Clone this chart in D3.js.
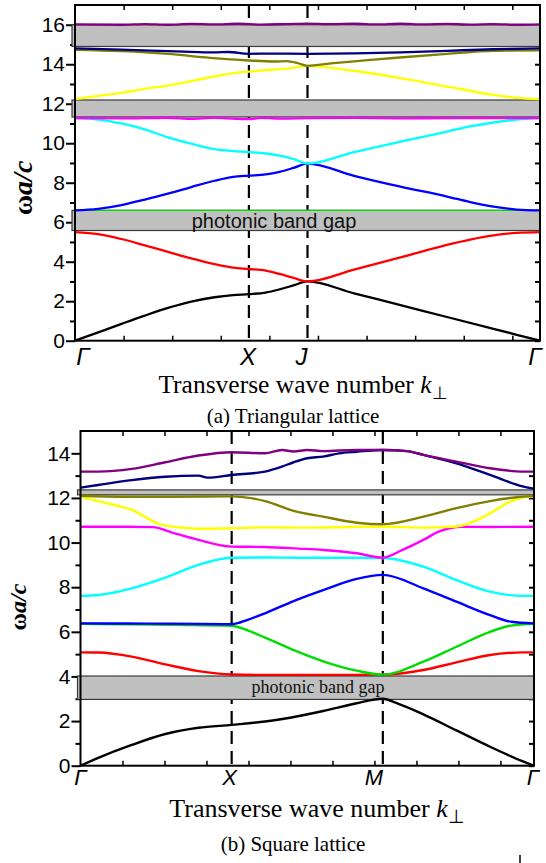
<!DOCTYPE html>
<html>
<head>
<meta charset="utf-8">
<script src="https://cdn.jsdelivr.net/npm/d3@7"></script>
<style>
  html, body { margin: 0; padding: 0; background: #fff; }
  svg { display: block; }
</style>
</head>
<body>
<svg id="fig" width="546" height="863"></svg>
<script>
// ---------- (a) triangular lattice ----------
const triKnotLabels = ["Γ", "X", "J", "Γ"];
const triKnotPos = [0, 0.374, 0.5, 1];
const triYTicks = [0, 2, 4, 6, 8, 10, 12, 14, 16];
const triGaps = [[5.58, 6.6], [11.33, 12.19], [14.9, 16.0]];
const triGapLabel = "photonic band gap";

const triBand1 = [[0,0],[0.05,0.42],[0.1,0.85],[0.15,1.27],[0.2,1.66],[0.25,1.98],[0.3,2.2],[0.34,2.31],[0.374,2.36],[0.41,2.44],[0.44,2.6],[0.47,2.8],[0.5,3.0],[0.6,2.4],[0.7,1.8],[0.8,1.2],[0.9,0.6],[1,0]];
const triBand2 = [[0,5.5],[0.05,5.4],[0.1,5.15],[0.15,4.83],[0.2,4.5],[0.25,4.17],[0.3,3.88],[0.34,3.7],[0.374,3.63],[0.41,3.55],[0.44,3.38],[0.47,3.18],[0.5,3.0],[0.6,3.6],[0.7,4.22],[0.8,4.85],[0.85,5.12],[0.9,5.33],[0.95,5.46],[1,5.5]];
const triBand3 = [[0,6.6],[0.5,6.6],[1,6.6]];
const triBand4 = [[0,6.6],[0.05,6.68],[0.1,6.87],[0.15,7.15],[0.2,7.45],[0.25,7.78],[0.3,8.1],[0.34,8.3],[0.374,8.36],[0.41,8.42],[0.44,8.55],[0.47,8.75],[0.5,8.97],[0.6,8.35],[0.7,7.8],[0.8,7.3],[0.85,7.02],[0.9,6.79],[0.95,6.64],[1,6.6]];
const triBand5 = [[0,11.27],[0.05,11.2],[0.1,11.0],[0.15,10.7],[0.2,10.3],[0.25,9.98],[0.3,9.7],[0.34,9.6],[0.374,9.55],[0.41,9.48],[0.44,9.37],[0.47,9.2],[0.5,8.97],[0.6,9.55],[0.7,10.08],[0.8,10.59],[0.85,10.85],[0.9,11.05],[0.95,11.2],[1,11.27]];
const triBand6 = [[0,11.27],[0.1,11.26],[0.2,11.29],[0.25,11.23],[0.3,11.28],[0.374,11.22],[0.4,11.28],[0.45,11.25],[0.5,11.27],[0.6,11.28],[0.7,11.26],[0.8,11.27],[0.9,11.27],[1,11.27]];
const triBand7 = [[0,12.23],[0.05,12.4],[0.1,12.55],[0.15,12.75],[0.2,12.92],[0.25,13.15],[0.3,13.38],[0.34,13.55],[0.374,13.63],[0.41,13.7],[0.44,13.75],[0.47,13.82],[0.5,13.92],[0.55,13.82],[0.6,13.67],[0.7,13.3],[0.8,12.87],[0.9,12.45],[0.95,12.3],[1,12.23]];
const triBand8 = [[0,14.73],[0.1,14.66],[0.2,14.52],[0.29,14.32],[0.374,14.19],[0.43,14.14],[0.455,14.16],[0.48,14.05],[0.5,13.92],[0.55,14.04],[0.6,14.15],[0.656,14.26],[0.8,14.53],[0.9,14.68],[1,14.7]];
const triBand9 = [[0,14.8],[0.1,14.74],[0.2,14.66],[0.25,14.63],[0.3,14.6],[0.33,14.62],[0.374,14.53],[0.42,14.54],[0.5,14.53],[0.6,14.55],[0.7,14.6],[0.8,14.68],[0.9,14.76],[1,14.8]];
const triBand10 = [[0,16.02],[0.1,16.0],[0.15,16.03],[0.2,16.0],[0.25,16.04],[0.3,16.02],[0.35,16.05],[0.4,16.01],[0.45,16.03],[0.5,16.06],[0.55,16.03],[0.6,16.05],[0.65,16.02],[0.7,16.05],[0.75,16.02],[0.8,16.04],[0.85,16.01],[0.9,16.03],[0.95,16.0],[1,16.02]];

// ---------- (b) square lattice ----------
const sqKnotLabels = ["Γ", "X", "M", "Γ"];
const sqKnotPos = [0, 1/3, 2/3, 1];
const sqYTicks = [0, 2, 4, 6, 8, 10, 12, 14];
const sqGaps = [[2.97, 4.02], [12.14, 12.36]];
const sqGapLabel = "photonic band gap";

const sqBand1 = [[0,0],[0.039,0.35],[0.113,0.93],[0.187,1.42],[0.26,1.7],[0.333,1.83],[0.407,1.98],[0.462,2.15],[0.535,2.45],[0.609,2.8],[0.666,3.0],[0.7,2.78],[0.756,2.3],[0.829,1.58],[0.903,0.85],[0.977,0.18],[1,0]];
const sqBand2 = [[0,5.08],[0.039,5.07],[0.113,4.89],[0.187,4.54],[0.26,4.24],[0.333,4.09],[0.4,4.07],[0.5,4.07],[0.6,4.07],[0.666,4.08],[0.756,4.29],[0.829,4.63],[0.903,4.96],[0.977,5.08],[1,5.08]];
const sqBand3 = [[0,6.36],[0.1,6.34],[0.2,6.31],[0.333,6.27],[0.37,6.05],[0.407,5.74],[0.44,5.45],[0.48,5.1],[0.535,4.68],[0.609,4.26],[0.666,4.08],[0.756,4.66],[0.829,5.33],[0.903,6.0],[0.95,6.28],[1,6.36]];
const sqBand4 = [[0,6.38],[0.1,6.37],[0.2,6.36],[0.333,6.34],[0.37,6.55],[0.407,6.83],[0.47,7.38],[0.535,7.87],[0.609,8.37],[0.666,8.55],[0.756,7.95],[0.829,7.35],[0.903,6.75],[0.95,6.45],[1,6.38]];
const sqBand5 = [[0,7.61],[0.039,7.65],[0.113,7.95],[0.187,8.43],[0.26,9.0],[0.333,9.32],[0.4,9.33],[0.5,9.32],[0.6,9.32],[0.666,9.31],[0.756,8.92],[0.829,8.32],[0.903,7.8],[0.977,7.61],[1,7.61]];
const sqBand6 = [[0,10.71],[0.1,10.71],[0.16,10.69],[0.2,10.46],[0.26,10.12],[0.333,9.82],[0.407,9.8],[0.48,9.73],[0.535,9.67],[0.609,9.52],[0.666,9.32],[0.71,9.67],[0.756,10.12],[0.79,10.49],[0.84,10.71],[0.9,10.7],[1,10.71]];
const sqBand7 = [[0,12.06],[0.039,11.86],[0.113,11.46],[0.18,10.79],[0.23,10.66],[0.26,10.62],[0.333,10.64],[0.4,10.68],[0.5,10.67],[0.6,10.7],[0.666,10.71],[0.756,10.67],[0.829,10.72],[0.866,10.94],[0.903,11.31],[0.94,11.76],[0.977,12.03],[1,12.06]];
const sqBand8 = [[0,12.1],[0.1,12.05],[0.2,12.05],[0.333,12.07],[0.407,11.86],[0.47,11.42],[0.535,11.16],[0.609,10.89],[0.666,10.82],[0.756,11.16],[0.829,11.54],[0.903,11.86],[0.977,12.06],[1,12.08]];
const sqBand9 = [[0,12.46],[0.039,12.58],[0.113,12.8],[0.187,12.95],[0.26,13.0],[0.28,12.91],[0.333,13.03],[0.407,13.18],[0.444,13.4],[0.47,13.6],[0.5,13.78],[0.535,13.85],[0.57,14.0],[0.609,14.07],[0.666,14.15],[0.72,14.1],[0.756,13.93],[0.829,13.55],[0.903,13.03],[0.977,12.51],[1,12.42]];
const sqBand10 = [[0,13.18],[0.039,13.18],[0.113,13.3],[0.187,13.6],[0.26,13.9],[0.333,14.05],[0.407,14.0],[0.444,14.15],[0.47,14.08],[0.5,14.15],[0.535,14.1],[0.609,14.15],[0.666,14.15],[0.72,14.1],[0.756,13.93],[0.829,13.63],[0.903,13.33],[0.977,13.18],[1,13.18]];

const bandColors = ["#000000", "#ff0000", "#00dd00", "#0000ff", "#00ffff", "#ff00ff", "#ffff00", "#808000", "#000080", "#800080"];

const svg = d3.select("#fig");

function drawPanel(p) {
  const x = d3.scaleLinear().domain([0, 1]).range([p.left, p.right]);
  const y = d3.scaleLinear().domain([0, p.yMax]).range([p.bottom, p.top]);
  const g = svg.append("g");

  // minor ticks along the k axis
  const minorK = d3.range(1, 12).map(i => i * p.kStep).filter(v => v < 0.995);
  g.append("g").attr("transform", `translate(0,${p.bottom})`)
    .call(d3.axisBottom(x).tickValues(minorK).tickSize(-5).tickFormat(""))
    .call(a => a.select(".domain").remove())
    .selectAll("line").attr("stroke-width", 1.5);
  g.append("g").attr("transform", `translate(0,${p.top})`)
    .call(d3.axisTop(x).tickValues(minorK).tickSize(-5).tickFormat(""))
    .call(a => a.select(".domain").remove())
    .selectAll("line").attr("stroke-width", 1.5);

  // frequency axis (left): major labelled ticks and odd minor ticks
  const yAxis = g.append("g").attr("transform", `translate(${p.left},0)`)
    .call(d3.axisLeft(y).tickValues(p.yTicks).tickSize(9).tickPadding(1).tickFormat(d3.format("d")));
  yAxis.select(".domain").remove();
  yAxis.selectAll("line").attr("stroke-width", 2);
  yAxis.selectAll("text")
    .attr("font-family", "'Liberation Sans', Arial, sans-serif")
    .attr("font-size", p.tickFont).attr("fill", "#000");
  const minorY = d3.range(1, p.yMax, 2);
  g.append("g").attr("transform", `translate(${p.left},0)`)
    .call(d3.axisLeft(y).tickValues(minorY).tickSize(5).tickFormat(""))
    .call(a => a.select(".domain").remove())
    .selectAll("line").attr("stroke-width", 2);
  // right axis ticks pointing inward
  g.append("g").attr("transform", `translate(${p.right},0)`)
    .call(d3.axisRight(y).tickValues(p.yTicks.concat(minorY)).tickSize(-5).tickFormat(""))
    .call(a => a.select(".domain").remove())
    .selectAll("line").attr("stroke-width", 2);

  // high-symmetry point markers
  g.selectAll(".kline").data(p.knotPos.slice(1, -1)).join("line")
    .attr("x1", d => x(d)).attr("x2", d => x(d))
    .attr("y1", p.top).attr("y2", p.bottom)
    .attr("stroke", "#000").attr("stroke-width", 2.2)
    .attr("stroke-dasharray", "13,7");

  // band gaps
  g.selectAll(".gap").data(p.gaps).join("rect")
    .attr("x", x(0) - 3).attr("width", x(1) - x(0) + 3)
    .attr("y", d => y(d[1])).attr("height", d => y(d[0]) - y(d[1]))
    .attr("fill", "#c0c0c0").attr("stroke", "#3a3a3a").attr("stroke-width", 1.2);
  g.append("text")
    .attr("x", p.gapLabelX).attr("y", y(p.gaps[0][0]) - p.gapLabelLift)
    .attr("text-anchor", "middle")
    .attr("font-family", p.gapLabelFamily).attr("font-size", p.gapLabelSize)
    .attr("fill", "#111").text(p.gapLabel);

  // dispersion bands
  const line = d3.line().x(d => x(d[0])).y(d => y(d[1])).curve(d3.curveMonotoneX);
  g.selectAll(".band").data(p.bands).join("path")
    .attr("d", line).attr("fill", "none")
    .attr("stroke", (d, i) => bandColors[i])
    .attr("stroke-width", (d, i) => p.bandWidths[i])
    .attr("stroke-linejoin", "round");

  // frame
  g.append("rect").attr("x", p.left).attr("y", p.top)
    .attr("width", p.right - p.left).attr("height", p.bottom - p.top)
    .attr("fill", "none").attr("stroke", "#000").attr("stroke-width", 2);

  // k-point labels
  g.selectAll(".klab").data(p.knotLabels).join("text")
    .attr("x", (d, i) => x(p.knotPos[i]) + p.knotDx[i])
    .attr("y", p.bottom + p.knotBaseline)
    .attr("text-anchor", "middle")
    .attr("font-family", "'Liberation Sans', Arial, sans-serif")
    .attr("font-style", "italic").attr("font-size", p.knotFont)
    .text(d => d);

  // axis titles
  const xt = g.append("text").attr("x", p.xTitleX).attr("y", p.xTitleY)
    .attr("text-anchor", "middle")
    .attr("font-family", "'Liberation Serif', 'Times New Roman', serif")
    .attr("font-size", p.xTitleSize);
  xt.append("tspan").text("Transverse wave number ");
  xt.append("tspan").attr("font-style", "italic").text("k");
  xt.append("tspan").attr("dy", 6).attr("font-size", p.xTitleSize * 0.72).text("⊥");

  const yt = g.append("text")
    .attr("transform", `translate(${p.yTitleX},${p.yTitleY}) rotate(-90)`)
    .attr("text-anchor", "middle")
    .attr("font-family", "'Liberation Serif', 'Times New Roman', serif")
    .attr("font-weight", "bold").attr("font-size", p.yTitleSize);
  yt.append("tspan").text("ω");
  yt.append("tspan").attr("font-style", "italic").text("a/c");

  g.append("text").attr("x", p.captionX).attr("y", p.captionY)
    .attr("text-anchor", "middle")
    .attr("font-family", "'Liberation Serif', 'Times New Roman', serif")
    .attr("font-size", 21).text(p.caption);
}

drawPanel({
  left: 75, right: 540, top: 5, bottom: 340.7, yMax: 17,
  yTicks: triYTicks, kStep: 0.1045,
  knotLabels: triKnotLabels, knotPos: triKnotPos, knotDx: [8, -1, -6, -5],
  knotFont: 24, knotBaseline: 24, tickFont: 21,
  gaps: triGaps, gapLabel: triGapLabel, gapLabelX: 274, gapLabelLift: 3,
  gapLabelFamily: "'Liberation Sans', Arial, sans-serif", gapLabelSize: 20,
  bands: [triBand1, triBand2, triBand3, triBand4, triBand5, triBand6, triBand7, triBand8, triBand9, triBand10],
  bandWidths: [2.3, 2.3, 1.2, 2.3, 2.3, 2.3, 2.3, 2.3, 2.3, 2.3],
  xTitleX: 303, xTitleY: 393, xTitleSize: 25.5,
  yTitleX: 32, yTitleY: 188, yTitleSize: 28,
  caption: "(a) Triangular lattice", captionX: 293, captionY: 423
});

drawPanel({
  left: 80.5, right: 534, top: 431, bottom: 765.7, yMax: 15,
  yTicks: sqYTicks, kStep: 0.0926,
  knotLabels: sqKnotLabels, knotPos: sqKnotPos, knotDx: [0, -2, -9, -1],
  knotFont: 22, knotBaseline: 19, tickFont: 21,
  gaps: sqGaps, gapLabel: sqGapLabel, gapLabelX: 318, gapLabelLift: 6,
  gapLabelFamily: "'Liberation Serif', 'Times New Roman', serif", gapLabelSize: 18,
  bands: [sqBand1, sqBand2, sqBand3, sqBand4, sqBand5, sqBand6, sqBand7, sqBand8, sqBand9, sqBand10],
  bandWidths: [2.4, 2.4, 2.4, 2.4, 2.4, 2.4, 2.4, 2.4, 2.4, 2.4],
  xTitleX: 317, xTitleY: 817, xTitleSize: 26,
  yTitleX: 26, yTitleY: 607, yTitleSize: 24,
  caption: "(b) Square lattice", captionX: 293, captionY: 851
});

// short stray rule at the lower right edge of the sheet
svg.append("line").attr("x1", 520).attr("x2", 520).attr("y1", 855).attr("y2", 863)
  .attr("stroke", "#000").attr("stroke-width", 1.5);
</script>
</body>
</html>
